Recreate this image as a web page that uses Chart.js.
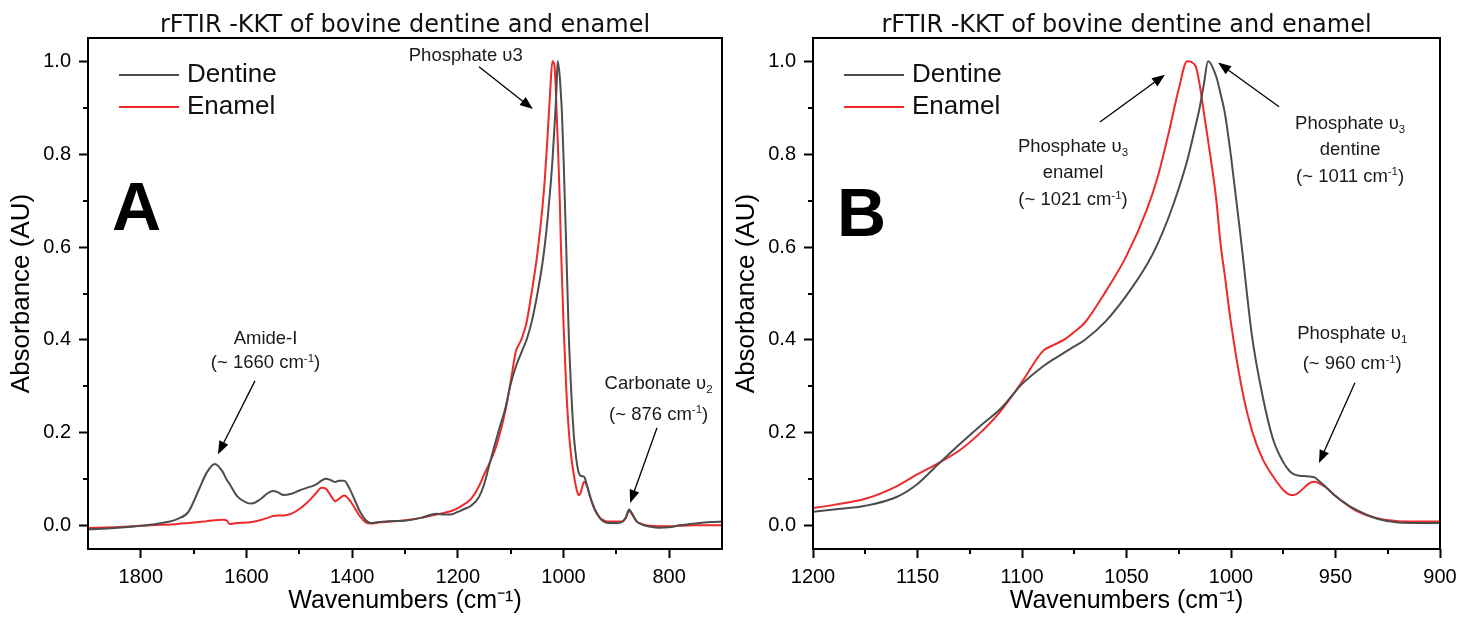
<!DOCTYPE html>
<html>
<head>
<meta charset="utf-8">
<script src="https://cdn.jsdelivr.net/npm/chart.js@4.4.1/dist/chart.umd.min.js"></script>
<style>
  body { margin: 0; background: #fff; }
  canvas { position: absolute; top: 0; }
  #chartA { left: 0; }
  #chartB { left: 730px; }
</style>
</head>
<body>
<canvas id="chartA" width="730" height="621"></canvas>
<canvas id="chartB" width="735" height="621"></canvas>
<script>
// spectrum, wavenumber in cm-1 (descending), absorbance normalised to the v3 peak
const wavenumbers = [1900, 1850, 1800, 1760, 1730, 1710, 1690, 1675, 1660, 1645, 1638, 1632, 1618, 1600, 1590, 1575,
  1560, 1550, 1540, 1530, 1515, 1500, 1485, 1470, 1458, 1450, 1440, 1432, 1425, 1415, 1405, 1395, 1385, 1375, 1365,
  1350, 1330, 1300, 1270, 1240, 1225, 1210, 1200, 1190, 1175, 1160, 1150, 1140, 1130, 1120, 1110, 1100, 1090, 1085,
  1080, 1075, 1070, 1060, 1050, 1040, 1035, 1030, 1025, 1021, 1017, 1015, 1013, 1011, 1007, 1005, 1003, 1000, 995,
  990, 985, 980, 975, 972, 970, 968, 965, 962, 960, 958, 955, 950, 945, 940, 930, 920, 910, 900, 890, 882, 876, 870,
  862, 850, 835, 820, 800, 780, 750, 720, 700];
const dentine = [-0.008, -0.005, 0.000, 0.006, 0.015, 0.030, 0.078, 0.115, 0.133, 0.116, 0.100, 0.090, 0.064, 0.050,
  0.048, 0.056, 0.070, 0.075, 0.072, 0.066, 0.069, 0.076, 0.082, 0.088, 0.097, 0.101, 0.098, 0.094, 0.097, 0.097,
  0.080, 0.055, 0.030, 0.013, 0.006, 0.008, 0.010, 0.011, 0.017, 0.026, 0.024, 0.025, 0.030, 0.035, 0.043, 0.062,
  0.090, 0.133, 0.175, 0.215, 0.253, 0.305, 0.343, 0.358, 0.372, 0.386, 0.400, 0.440, 0.496, 0.564, 0.608, 0.662,
  0.726, 0.785, 0.860, 0.900, 0.950, 1.000, 0.966, 0.930, 0.890, 0.795, 0.607, 0.410, 0.282, 0.188, 0.137, 0.118,
  0.111, 0.108, 0.107, 0.106, 0.104, 0.097, 0.085, 0.064, 0.047, 0.034, 0.015, 0.007, 0.006, 0.006, 0.008, 0.018,
  0.035, 0.026, 0.010, 0.002, -0.002, -0.004, -0.003, 0.001, 0.005, 0.008, 0.009];
const enamel = [-0.005, -0.003, 0.000, 0.002, 0.004, 0.006, 0.008, 0.010, 0.012, 0.013, 0.012, 0.004, 0.006, 0.007,
  0.008, 0.012, 0.017, 0.021, 0.022, 0.022, 0.026, 0.036, 0.050, 0.068, 0.082, 0.080, 0.064, 0.053, 0.058, 0.065,
  0.055, 0.038, 0.020, 0.008, 0.005, 0.007, 0.009, 0.012, 0.017, 0.024, 0.028, 0.033, 0.038, 0.045, 0.058, 0.085,
  0.111, 0.135, 0.162, 0.200, 0.248, 0.310, 0.376, 0.389, 0.400, 0.417, 0.437, 0.504, 0.581, 0.684, 0.752, 0.842,
  0.940, 1.000, 0.990, 0.950, 0.890, 0.830, 0.700, 0.607, 0.540, 0.436, 0.300, 0.205, 0.145, 0.107, 0.077, 0.067,
  0.066, 0.070, 0.082, 0.093, 0.095, 0.092, 0.084, 0.064, 0.047, 0.032, 0.016, 0.010, 0.009, 0.009, 0.009, 0.017,
  0.032, 0.024, 0.010, 0.003, 0.000, -0.001, -0.001, 0.000, 0.001, 0.001, 0.001];

const yTicks = [0, 0.2, 0.4, 0.6, 0.8, 1.0];
const yMinor = [0.1, 0.3, 0.5, 0.7, 0.9];
const xTicksA = [800, 1000, 1200, 1400, 1600, 1800];
const xMinorA = [900, 1100, 1300, 1500, 1700];
const xTicksB = [900, 950, 1000, 1050, 1100, 1150, 1200];
const xMinorB = [925, 975, 1025, 1075, 1125, 1175];

const seriesNames = ['Dentine', 'Enamel'];
const seriesColors = ['#4d4d4d', '#ee2a2a'];
const chartTitle = 'rFTIR -KKT of bovine dentine and enamel';

// annotations, placed in data units (wavenumber, absorbance)
const notesA = [
  { at: [1185, 1.014], lines: ['Phosphate υ3'] },
  { at: [1564, 0.405], lines: ['Amide-I', '(~ 1660 cm^{-1})'], gap: 0.052 },
  { at: [820, 0.308], lines: ['Carbonate υ_{2}', '(~ 876 cm^{-1})'], gap: 0.065 }
];
const arrowsA = [
  { from: [1160, 0.988], to: [1058, 0.897] },
  { from: [1584, 0.312], to: [1654, 0.154] },
  { from: [823, 0.211], to: [874, 0.049] }
];
const notesB = [
  { at: [1075.6, 0.82], lines: ['Phosphate υ_{3}', 'enamel', '(~ 1021 cm^{-1})'], gap: 0.058 },
  { at: [943, 0.869], lines: ['Phosphate υ_{3}', 'dentine', '(~ 1011 cm^{-1})'], gap: 0.057 },
  { at: [942, 0.416], lines: ['Phosphate υ_{1}', '(~ 960 cm^{-1})'], gap: 0.065 }
];
const arrowsB = [
  { from: [1062.7, 0.869], to: [1031.6, 0.971] },
  { from: [977, 0.902], to: [1006.2, 0.997] },
  { from: [940.7, 0.308], to: [957.9, 0.135] }
];

const sans = '"Liberation Sans", Arial, sans-serif';

function richText(ctx, str, cx, cy, size) {
  const parts = [];
  str.replace(/\^\{([^}]*)\}|_\{([^}]*)\}|[^^_]+/g, (m, sup, sub) => {
    if (sup !== undefined) parts.push({ t: sup, dy: -0.36, s: 0.62 });
    else if (sub !== undefined) parts.push({ t: sub, dy: 0.22, s: 0.62 });
    else parts.push({ t: m, dy: 0, s: 1 });
    return m;
  });
  let total = 0;
  parts.forEach(p => {
    ctx.font = (size * p.s) + 'px ' + sans;
    p.w = ctx.measureText(p.t).width;
    total += p.w;
  });
  let x = cx - total / 2;
  ctx.textAlign = 'left';
  ctx.textBaseline = 'alphabetic';
  parts.forEach(p => {
    ctx.font = (size * p.s) + 'px ' + sans;
    ctx.fillText(p.t, x, cy + size * 0.36 + p.dy * size);
    x += p.w;
  });
}

function arrow(ctx, x1, y1, x2, y2) {
  const a = Math.atan2(y2 - y1, x2 - x1), L = 13, W = 5;
  ctx.beginPath();
  ctx.moveTo(x1, y1);
  ctx.lineTo(x2 - Math.cos(a) * L * 0.8, y2 - Math.sin(a) * L * 0.8);
  ctx.stroke();
  ctx.beginPath();
  ctx.moveTo(x2, y2);
  ctx.lineTo(x2 - L * Math.cos(a) + W * Math.sin(a), y2 - L * Math.sin(a) - W * Math.cos(a));
  ctx.lineTo(x2 - L * Math.cos(a) - W * Math.sin(a), y2 - L * Math.sin(a) + W * Math.cos(a));
  ctx.closePath();
  ctx.fill();
}

const decoPlugin = {
  id: 'deco',
  afterDraw(chart, args, o) {
    const { ctx, chartArea: a, scales: { x, y } } = chart;
    ctx.save();
    ctx.strokeStyle = '#000';
    ctx.fillStyle = '#000';

    // frame + minor ticks
    ctx.lineWidth = 2;
    ctx.strokeRect(a.left, a.top, a.right - a.left, a.bottom - a.top);
    ctx.beginPath();
    o.xMinor.forEach(v => {
      const px = Math.round(x.getPixelForValue(v));
      ctx.moveTo(px, a.bottom); ctx.lineTo(px, a.bottom + 5);
    });
    yMinor.forEach(v => {
      const py = Math.round(y.getPixelForValue(v));
      ctx.moveTo(a.left - 5, py); ctx.lineTo(a.left, py);
    });
    ctx.stroke();

    // title
    ctx.font = '24px "DejaVu Sans", sans-serif';
    ctx.textAlign = 'center';
    ctx.textBaseline = 'alphabetic';
    ctx.fillStyle = '#111';
    ctx.fillText(chartTitle, (a.left + a.right) / 2, 32);

    // legend inside the plot
    seriesNames.forEach((name, i) => {
      const ly = a.top + 37 + i * 32;
      ctx.strokeStyle = seriesColors[i];
      ctx.lineWidth = 2;
      ctx.beginPath();
      ctx.moveTo(a.left + 31, ly); ctx.lineTo(a.left + 91, ly);
      ctx.stroke();
      ctx.fillStyle = '#111';
      ctx.font = '26px ' + sans;
      ctx.textAlign = 'left';
      ctx.textBaseline = 'middle';
      ctx.fillText(name, a.left + 99, ly);
    });

    // panel letter
    ctx.fillStyle = '#000';
    ctx.font = 'bold 68px ' + sans;
    ctx.textBaseline = 'alphabetic';
    ctx.fillText(o.letter, a.left + 24, a.top + o.letterY);

    // annotations
    ctx.fillStyle = '#1a1a1a';
    o.notes.forEach(n => {
      n.lines.forEach((line, i) => {
        const px = x.getPixelForValue(n.at[0]);
        const py = y.getPixelForValue(n.at[1] - i * (n.gap || 0));
        richText(ctx, line, px, py, 18.5);
      });
    });
    ctx.strokeStyle = '#000';
    ctx.fillStyle = '#000';
    ctx.lineWidth = 1.3;
    o.arrows.forEach(r => {
      arrow(ctx, x.getPixelForValue(r.from[0]), y.getPixelForValue(r.from[1]),
        x.getPixelForValue(r.to[0]), y.getPixelForValue(r.to[1]));
    });
    ctx.restore();
  }
};

function makeChart(id, xMin, xMax, xTicks, deco, yWidth, padRight, yTitlePad) {
  const ctx = document.getElementById(id).getContext('2d');
  return new Chart(ctx, {
    type: 'line',
    data: {
      datasets: [dentine, enamel].map((vals, k) => ({
        label: seriesNames[k],
        data: wavenumbers.map((w, i) => ({ x: w, y: vals[i] })),
        borderColor: seriesColors[k],
        borderWidth: 2,
        pointRadius: 0,
        fill: false,
        cubicInterpolationMode: 'monotone'
      }))
    },
    options: {
      responsive: false,
      animation: false,
      devicePixelRatio: 1,
      layout: { padding: { top: 38, right: padRight, left: 0, bottom: 0 } },
      plugins: {
        legend: { display: false },
        tooltip: { enabled: false },
        deco: deco
      },
      scales: {
        x: {
          type: 'linear',
          reverse: true,
          min: xMin,
          max: xMax,
          afterBuildTicks: s => { s.ticks = xTicks.map(v => ({ value: v })); },
          afterFit: s => { s.height = 72; },
          border: { display: false },
          grid: { drawOnChartArea: false, drawTicks: true, tickLength: 9, tickWidth: 2, tickColor: '#000' },
          ticks: {
            color: '#000', padding: 7, maxRotation: 0, autoSkip: false,
            font: { family: sans, size: 20 },
            callback: v => String(v)
          },
          title: {
            display: true, text: 'Wavenumbers (cm⁻¹)', color: '#000',
            font: { family: sans, size: 25, lineHeight: 1 },
            padding: { top: 0, bottom: 7 }
          }
        },
        y: {
          type: 'linear',
          min: -0.05,
          max: 1.05,
          afterBuildTicks: s => { s.ticks = yTicks.map(v => ({ value: v })); },
          afterFit: s => { s.width = yWidth; },
          border: { display: false },
          grid: { drawOnChartArea: false, drawTicks: true, tickLength: 9, tickWidth: 2, tickColor: '#000' },
          ticks: {
            color: '#000', padding: 8,
            font: { family: sans, size: 20 },
            callback: v => v.toFixed(1)
          },
          title: {
            display: true, text: 'Absorbance (AU)', color: '#000',
            font: { family: sans, size: 26, lineHeight: 1 },
            padding: { top: yTitlePad, bottom: 0 }
          }
        }
      }
    },
    plugins: [decoPlugin]
  });
}

makeChart('chartA', 700, 1900, xTicksA,
  { letter: 'A', letterY: 192, xMinor: xMinorA, notes: notesA, arrows: arrowsA }, 88, 8, 9);
makeChart('chartB', 900, 1200, xTicksB,
  { letter: 'B', letterY: 198, xMinor: xMinorB, notes: notesB, arrows: arrowsB }, 83, 25, 4);
</script>
</body>
</html>
